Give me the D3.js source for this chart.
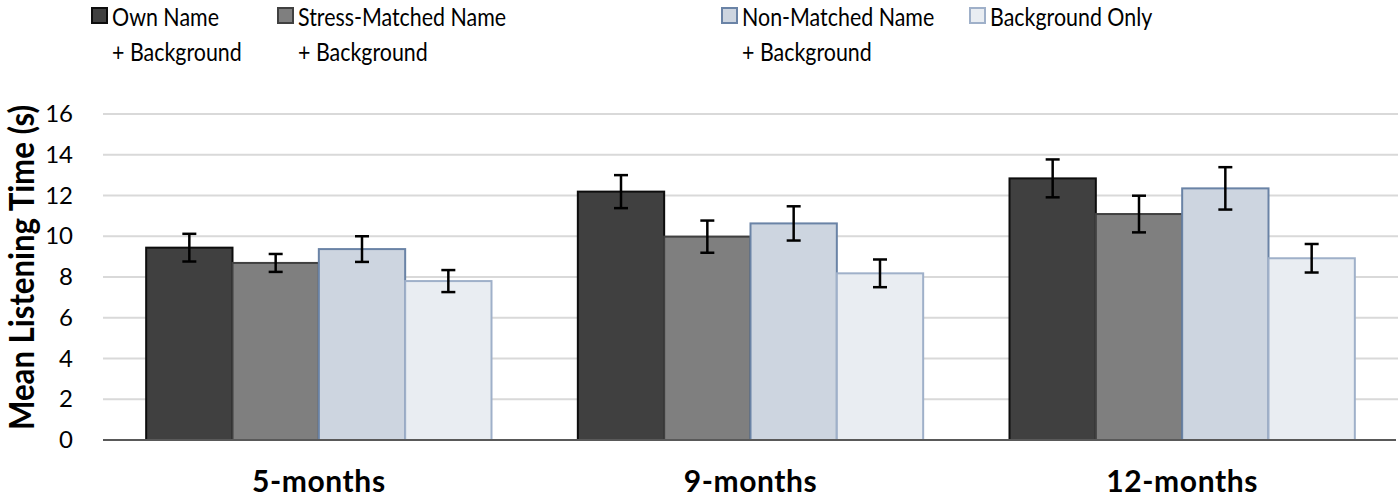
<!DOCTYPE html>
<html>
<head>
<meta charset="utf-8">
<script src="https://cdn.jsdelivr.net/npm/d3@7"></script>
<style>
  body { margin: 0; background: #fff; }
  svg { display: block; font-family: Lato, "Open Sans", sans-serif; }
</style>
</head>
<body>
<svg id="chart" width="1400" height="497"></svg>
<script>
// data
const ages = ["5-months", "9-months", "12-months"];
const conditions = ["own", "stress", "nonmatched", "bgonly"];
const legendLines = [
  ["Own Name", "+ Background"],
  ["Stress-Matched Name", "+ Background"],
  ["Non-Matched Name", "+ Background"],
  ["Background Only"]
];
const own = [9.44, 12.19, 12.84];
const stress = [8.69, 9.98, 11.09];
const nonmatched = [9.37, 10.63, 12.35];
const bgonly = [7.8, 8.18, 8.92];
const ownErr = [0.68, 0.81, 0.93];
const stressErr = [0.44, 0.79, 0.9];
const nonmatchedErr = [0.63, 0.84, 1.04];
const bgonlyErr = [0.54, 0.68, 0.7];
const yTicks = [0, 2, 4, 6, 8, 10, 12, 14, 16];

const fills = ["#404040", "#7f7f7f", "#cdd5e0", "#e9edf2"];
const strokes = ["#0d0d0d", "#404040", "#6a83a6", "#9fb0c9"];

const values = [own, stress, nonmatched, bgonly];
const errors = [ownErr, stressErr, nonmatchedErr, bgonlyErr];

const svg = d3.select("#chart");
const margin = { top: 114, right: 2, bottom: 57, left: 103 };
const width = +svg.attr("width") - margin.left - margin.right,
  height = +svg.attr("height") - margin.top - margin.bottom;

const g = svg.append("g").attr("transform", `translate(${margin.left},${margin.top})`);

const x0 = d3.scaleBand().domain(ages).range([0, width]).paddingInner(0.2).paddingOuter(0.1);
const x1 = d3.scaleBand().domain(conditions).range([0, x0.bandwidth()]);
const y = d3.scaleLinear().domain([0, 16]).range([height, 0]);

// gridlines
g.selectAll(".grid")
  .data(yTicks.filter((d) => d > 0))
  .enter()
  .append("line")
  .attr("x1", 0)
  .attr("x2", width)
  .attr("y1", (d) => y(d))
  .attr("y2", (d) => y(d))
  .style("stroke", "#d9d9d9")
  .style("stroke-width", 2);

// y axis labels
const yAxis = g.append("g")
  .call(d3.axisLeft(y).tickValues(yTicks).tickSize(0).tickPadding(30));
yAxis.select(".domain").remove();
yAxis.selectAll("text")
  .style("font-family", "Lato, sans-serif")
  .style("font-size", "24px")
  .style("fill", "#000");

// bars
const rows = [];
ages.forEach((a, i) => {
  conditions.forEach((c, j) => {
    rows.push({ age: a, cond: c, k: j, v: values[j][i], e: errors[j][i] });
  });
});

g.selectAll(".bar")
  .data(rows)
  .enter()
  .append("rect")
  .attr("class", "bar")
  .attr("x", (d) => x0(d.age) + x1(d.cond))
  .attr("y", (d) => y(d.v))
  .attr("width", x1.bandwidth())
  .attr("height", (d) => height - y(d.v))
  .style("fill", (d) => fills[d.k])
  .style("stroke", (d) => strokes[d.k])
  .style("stroke-width", 2);

// x axis line
g.append("line")
  .attr("x1", 0)
  .attr("x2", width - 2)
  .attr("y1", height)
  .attr("y2", height)
  .style("stroke", "#595959")
  .style("stroke-width", 2);

// error bars
const cap = 7;
const eb = g.selectAll(".err").data(rows).enter().append("g").attr("class", "err");
const cx = (d) => x0(d.age) + x1(d.cond) + x1.bandwidth() / 2;
eb.append("line")
  .attr("x1", cx).attr("x2", cx)
  .attr("y1", (d) => y(d.v + d.e)).attr("y2", (d) => y(d.v - d.e));
eb.append("line")
  .attr("x1", (d) => cx(d) - cap).attr("x2", (d) => cx(d) + cap)
  .attr("y1", (d) => y(d.v + d.e)).attr("y2", (d) => y(d.v + d.e));
eb.append("line")
  .attr("x1", (d) => cx(d) - cap).attr("x2", (d) => cx(d) + cap)
  .attr("y1", (d) => y(d.v - d.e)).attr("y2", (d) => y(d.v - d.e));
eb.selectAll("line").style("stroke", "#000").style("stroke-width", 2.5);

// category labels
g.selectAll(".cat")
  .data(ages)
  .enter()
  .append("text")
  .attr("x", (d) => x0(d) + x0.bandwidth() / 2)
  .attr("y", height + 52)
  .attr("text-anchor", "middle")
  .style("font-size", "30px")
  .style("font-weight", "bold")
  .style("letter-spacing", "0.6px")
  .text((d) => d);

// y axis title (squeezed along its length, like the original)
svg.append("text")
  .attr("transform", `translate(34,268) rotate(-90)`)
  .attr("x", -162)
  .attr("textLength", 325)
  .attr("lengthAdjust", "spacingAndGlyphs")
  .style("font-size", "35px")
  .style("font-weight", "bold")
  .text("Mean Listening Time (s)");

// legend
const legendX = [91, 277, 721, 969];
const lg = svg.selectAll(".legend")
  .data(legendLines)
  .enter()
  .append("g")
  .attr("transform", (d, i) => `translate(${legendX[i]},0)`);
lg.append("rect")
  .attr("x", 1).attr("y", 8)
  .attr("width", 15).attr("height", 15)
  .style("fill", (d, i) => fills[i])
  .style("stroke", (d, i) => strokes[i])
  .style("stroke-width", 2);
lg.selectAll("text")
  .data((d) => d)
  .enter()
  .append("text")
  .attr("transform", (d, i) => `translate(21,${26 + i * 35}) scale(0.84,1)`)
  .style("font-size", "25.5px")
  .text((d) => d);
</script>
</body>
</html>
